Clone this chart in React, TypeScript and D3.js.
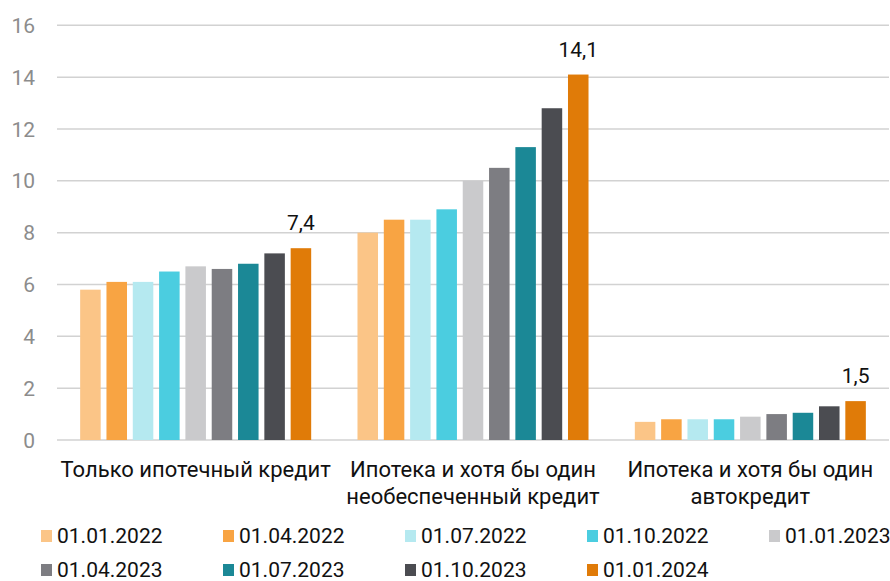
import React from "react";
import * as d3 from "d3";

const categories: string[][] = [
  ["Только ипотечный кредит"],
  ["Ипотека и хотя бы один", "необеспеченный кредит"],
  ["Ипотека и хотя бы один", "автокредит"],
];
const dates = [
  "01.01.2022", "01.04.2022", "01.07.2022", "01.10.2022", "01.01.2023",
  "01.04.2023", "01.07.2023", "01.10.2023", "01.01.2024",
];
const onlyMortgage = [5.8, 6.1, 6.1, 6.5, 6.7, 6.6, 6.8, 7.2, 7.4];
const mortgageUnsecured = [8.0, 8.5, 8.5, 8.9, 10.0, 10.5, 11.3, 12.8, 14.1];
const mortgageAuto = [0.7, 0.8, 0.8, 0.8, 0.9, 1.0, 1.05, 1.3, 1.5];
const seriesByCategory = [onlyMortgage, mortgageUnsecured, mortgageAuto];
const lastLabels = ["7,4", "14,1", "1,5"];
const yTicks = [0, 2, 4, 6, 8, 10, 12, 14, 16];
const colors = [
  "#FBC587", "#F8A443", "#B5E9F0", "#4BCDE0", "#CACACC",
  "#7D7D82", "#1B8896", "#4B4C51", "#E07B08",
];

const W = 890;
const H = 581;
const FONT = "Roboto, 'Noto Sans', sans-serif";

export default function App() {
  const left = 57;
  const right = 889;
  const top = 25.3;
  const bottom = 440;
  const y = d3.scaleLinear().domain([0, 16]).range([bottom, top]);
  const x0 = d3.scaleBand<number>().domain([0, 1, 2]).range([left, right]).padding(0);
  const x1 = d3
    .scaleBand<number>()
    .domain(d3.range(dates.length))
    .range([0, x0.bandwidth()])
    .paddingInner(0.22)
    .paddingOuter(0.88);

  return (
    <svg
      width={W}
      height={H}
      style={{ position: "absolute", left: 0, top: 0, display: "block", background: "#fff" }}
      fontFamily={FONT}
    >
      {yTicks.map((t) => (
        <g key={t}>
          <line x1={left} x2={right} y1={y(t)} y2={y(t)} stroke="#d2d2d2" strokeWidth={1.5} />
          <text x={35} y={y(t)} dy="0.36em" textAnchor="end" fontSize={21} fill="#8c8c8c">
            {t}
          </text>
        </g>
      ))}
      {seriesByCategory.map((vals, ci) => (
        <g key={ci} transform={`translate(${x0(ci)},0)`}>
          {vals.map((v, i) => (
            <rect
              key={i}
              x={x1(i)}
              y={y(v)}
              width={x1.bandwidth()}
              height={bottom - y(v)}
              fill={colors[i]}
            />
          ))}
          <text
            x={(x1(vals.length - 1) as number) + x1.bandwidth() / 2}
            y={y(vals[vals.length - 1]) - 18}
            textAnchor="middle"
            fontSize={21}
            fill="#111"
          >
            {lastLabels[ci]}
          </text>
          {categories[ci].map((line, li) => (
            <text
              key={li}
              x={x0.bandwidth() / 2}
              y={477 + li * 27}
              textAnchor="middle"
              fontSize={22}
              fill="#111"
            >
              {line}
            </text>
          ))}
        </g>
      ))}
      {dates.map((d, i) => {
        const row = Math.floor(i / 5);
        const col = i % 5;
        const lx = 41 + col * 182;
        const ly = 536 + row * 34;
        return (
          <g key={d}>
            <rect x={lx} y={ly - 6} width={11} height={12} fill={colors[i]} />
            <text x={lx + 16} y={ly} dy="0.35em" fontSize={21} fill="#111">
              {d}
            </text>
          </g>
        );
      })}
    </svg>
  );
}
